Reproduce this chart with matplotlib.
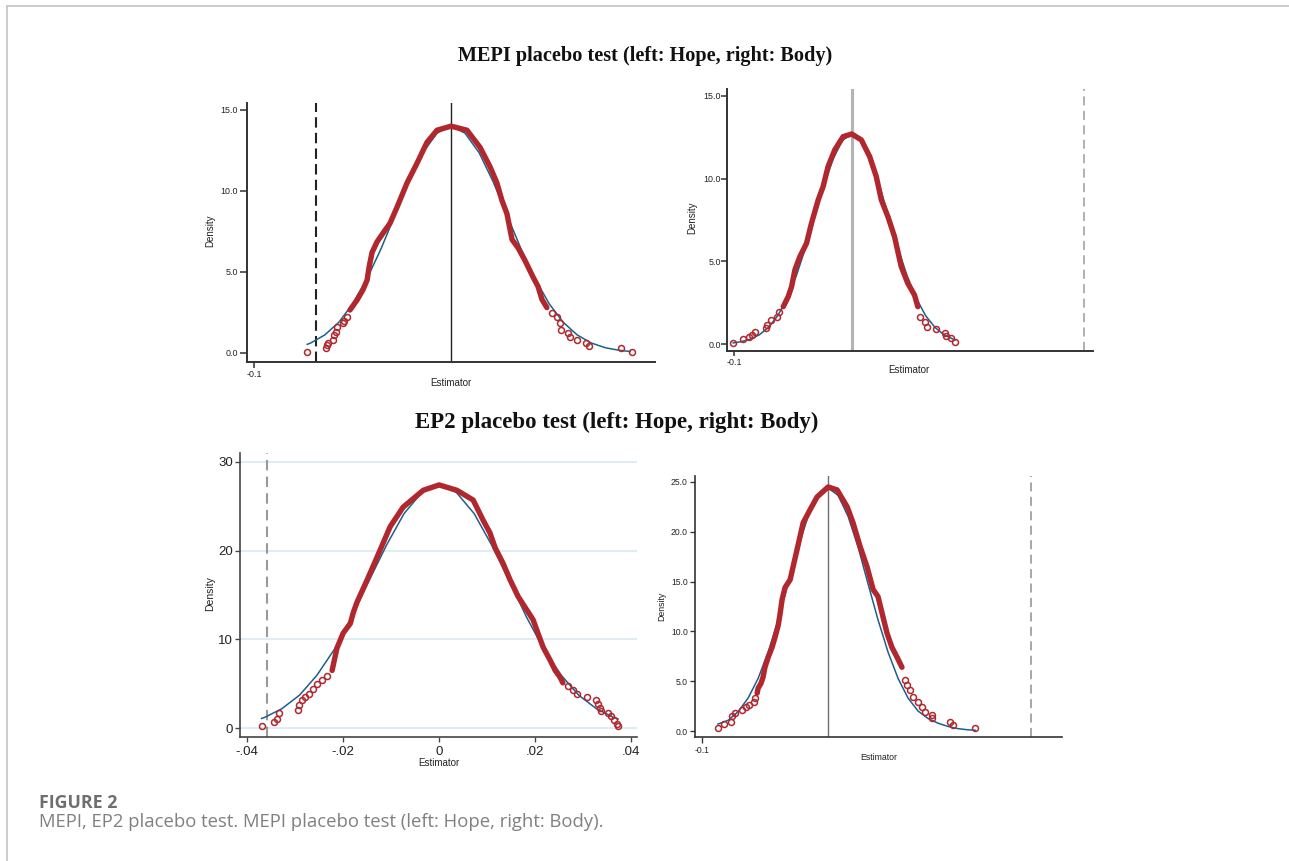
import matplotlib
matplotlib.use("Agg")
import matplotlib.pyplot as plt
from matplotlib.lines import Line2D

W, H = 1289, 861
RED = "#b0282e"
BLUE = "#1b5f8e"

# ---- MEPI, Hope (top left) ----
mepi_hope_kde_x = [-0.0513, -0.0477, -0.0447, -0.0426, -0.0416, -0.0401, -0.0376, -0.0345, -0.0310,
                   -0.0274, -0.0223, -0.0173, -0.0122, -0.0071, 0.0, 0.0081, 0.0147, 0.0198, 0.0233,
                   0.0259, 0.0284, 0.0310, 0.0340, 0.0376, 0.0416, 0.0442, 0.0462, 0.0487]
mepi_hope_kde_y = [2.65, 3.27, 3.9, 4.5, 5.3, 6.2, 6.85, 7.4, 8.0, 9.0, 10.5, 11.7, 13.0, 13.75, 14.0,
                   13.75, 12.7, 11.5, 10.5, 9.4, 8.6, 7.0, 6.5, 5.7, 4.7, 4.1, 3.3, 2.8]
mepi_hope_tail_x = [-0.0731, -0.0635, -0.0629, -0.0624, -0.0599, -0.0594, -0.0584, -0.0579, -0.0548,
                    -0.0543, -0.0528, 0.0513, 0.0538, 0.0553, 0.0558, 0.0594, 0.0604, 0.0640, 0.0685,
                    0.0700, 0.0863, 0.0919]
mepi_hope_tail_y = [0.06, 0.3, 0.5, 0.6, 0.8, 1.1, 1.3, 1.6, 1.85, 2.0, 2.2, 2.45, 2.2, 1.85, 1.4,
                    1.25, 1.0, 0.8, 0.6, 0.45, 0.3, 0.06]
mepi_hope_norm_x = [-0.0730, -0.0713, -0.0641, -0.0570, -0.0499, -0.0428, -0.0356, -0.0285, -0.0214,
                    -0.0143, -0.0071, 0.0, 0.0071, 0.0143, 0.0214, 0.0285, 0.0356, 0.0428, 0.0499,
                    0.0570, 0.0641, 0.0713, 0.0784, 0.0855, 0.0910]
mepi_hope_norm_y = [0.53, 0.61, 1.11, 1.89, 3.03, 4.55, 6.41, 8.49, 10.57, 12.36, 13.57, 14.0, 13.57,
                    12.36, 10.57, 8.49, 6.41, 4.55, 3.03, 1.89, 1.11, 0.61, 0.32, 0.16, 0.09]
mepi_hope_ref = 0.0
mepi_hope_actual = -0.0685

# ---- MEPI, Body (top right) ----
mepi_body_kde_x = [-0.0582, -0.0540, -0.0511, -0.0483, -0.0441, -0.0384, -0.0342, -0.0285, -0.0243,
                   -0.0201, -0.0144, -0.0073, 0.0, 0.0082, 0.0153, 0.0209, 0.0252, 0.0308, 0.0364,
                   0.0421, 0.0477, 0.0534, 0.0562]
mepi_body_kde_y = [2.26, 2.86, 3.47, 4.48, 5.28, 6.09, 7.30, 8.71, 9.52, 10.73, 11.74, 12.54, 12.70,
                   12.34, 11.33, 10.12, 8.71, 7.70, 6.49, 4.68, 3.67, 2.96, 2.26]
mepi_body_tail_x = [-0.1006, -0.0926, -0.0870, -0.0850, -0.0822, -0.0729, -0.0718, -0.0689, -0.0638,
                    -0.0619, 0.0582, 0.0619, 0.0641, 0.0718, 0.0797, 0.0802, 0.0845, 0.0881]
mepi_body_tail_y = [0.08, 0.28, 0.44, 0.54, 0.74, 0.95, 1.15, 1.45, 1.65, 1.95, 1.65, 1.35, 1.05,
                    0.89, 0.65, 0.48, 0.34, 0.10]
mepi_body_norm_x = [-0.1008, -0.0942, -0.0864, -0.0785, -0.0707, -0.0628, -0.0550, -0.0471, -0.0393,
                    -0.0314, -0.0236, -0.0157, -0.0079, 0.0, 0.0079, 0.0157, 0.0236, 0.0314, 0.0393,
                    0.0471, 0.0550, 0.0628, 0.0707, 0.0785, 0.0864, 0.0880]
mepi_body_norm_y = [0.07, 0.14, 0.29, 0.56, 1.01, 1.72, 2.75, 4.12, 5.81, 7.70, 9.59, 11.21, 12.31,
                    12.70, 12.31, 11.21, 9.59, 7.70, 5.81, 4.12, 2.75, 1.72, 1.01, 0.56, 0.29, 0.25]
mepi_body_ref = 0.0
mepi_body_actual = 0.1975

# ---- EP2, Hope (bottom left) ----
ep2_hope_kde_x = [-0.0223, -0.0213, -0.0200, -0.0185, -0.0179, -0.0171, -0.0150, -0.0129, -0.0102,
                  -0.0075, -0.0033, 0.0, 0.0037, 0.0071, 0.0092, 0.0106, 0.0117, 0.0133, 0.0148,
                  0.0165, 0.0183, 0.0196, 0.0206, 0.0217, 0.0231, 0.0242, 0.0252, 0.0258]
ep2_hope_kde_y = [6.5, 9.0, 10.7, 11.8, 13.0, 14.2, 16.7, 19.3, 22.7, 24.9, 26.8, 27.4, 26.8, 25.7,
                  23.4, 22.0, 20.3, 18.6, 16.7, 14.8, 13.3, 12.2, 10.7, 9.1, 7.7, 6.5, 5.75, 5.1]
ep2_hope_tail_x = [-0.0369, -0.0344, -0.0338, -0.0333, -0.0294, -0.0292, -0.0285, -0.0279, -0.0271,
                   -0.0263, -0.0254, -0.0244, -0.0233, 0.0269, 0.0279, 0.0288, 0.0308, 0.0327,
                   0.0331, 0.0335, 0.0338, 0.0352, 0.0358, 0.0365, 0.0371, 0.0373]
ep2_hope_tail_y = [0.23, 0.68, 1.01, 1.69, 2.03, 2.59, 3.16, 3.49, 3.83, 4.40, 4.96, 5.41, 5.86,
                   4.7, 4.3, 3.8, 3.5, 3.2, 2.7, 2.25, 1.9, 1.7, 1.35, 0.9, 0.45, 0.23]
ep2_hope_norm_x = [-0.0370, -0.0364, -0.0328, -0.0291, -0.0255, -0.0218, -0.0182, -0.0146, -0.0109,
                   -0.0073, -0.0036, 0.0, 0.0036, 0.0073, 0.0109, 0.0146, 0.0182, 0.0218, 0.0255,
                   0.0291, 0.0328, 0.0364, 0.0373]
ep2_hope_norm_y = [1.09, 1.20, 2.18, 3.71, 5.93, 8.90, 12.54, 16.62, 20.68, 24.18, 26.56, 27.40,
                   26.56, 24.18, 20.68, 16.62, 12.54, 8.90, 5.93, 3.71, 2.18, 1.20, 1.03]
ep2_hope_actual = -0.0358

# ---- EP2, Body (bottom right) ----
ep2_body_kde_x = [-0.0775, -0.0771, -0.0759, -0.0751, -0.0743, -0.0730, -0.0714, -0.0702, -0.0689,
                  -0.0681, -0.0673, -0.0661, -0.0640, -0.0628, -0.0612, -0.0587, -0.0559, -0.0530,
                  -0.0485, -0.0448, -0.0407, -0.0383, -0.0354, -0.0326, -0.0301, -0.0281, -0.0264,
                  -0.0244, -0.0224, -0.0203, -0.0183]
ep2_body_kde_y = [3.8, 4.3, 4.8, 5.4, 6.4, 7.4, 8.4, 9.4, 10.6, 11.8, 13.2, 14.4, 15.2, 16.5, 18.2,
                  20.9, 22.2, 23.5, 24.5, 24.2, 22.5, 20.9, 18.5, 16.5, 14.2, 13.5, 11.8, 9.8, 8.4,
                  7.4, 6.4]
ep2_body_tail_x = [-0.0935, -0.0910, -0.0881, -0.0877, -0.0865, -0.0837, -0.0820, -0.0808, -0.0787,
                   -0.0783, -0.0170, -0.0162, -0.0150, -0.0138, -0.0117, -0.0101, -0.0089, -0.0060,
                   -0.0060, 0.0013, 0.0026, 0.0116]
ep2_body_tail_y = [0.3, 0.7, 0.9, 1.5, 1.8, 2.1, 2.4, 2.6, 2.9, 3.3, 5.1, 4.6, 4.1, 3.4, 2.9, 2.4,
                   1.9, 1.6, 1.3, 0.9, 0.6, 0.3]
ep2_body_norm_x = [-0.0935, -0.0894, -0.0853, -0.0812, -0.0771, -0.0730, -0.0689, -0.0649, -0.0608,
                   -0.0567, -0.0526, -0.0485, -0.0444, -0.0403, -0.0362, -0.0322, -0.0281, -0.0240,
                   -0.0199, -0.0158, -0.0117, -0.0076, -0.0035, 0.0006, 0.0046, 0.0087, 0.0116]
ep2_body_norm_y = [0.70, 1.07, 1.94, 3.30, 5.28, 7.92, 11.17, 14.80, 18.42, 21.53, 23.65, 24.40,
                   23.65, 21.53, 18.42, 14.80, 11.17, 7.92, 5.28, 3.30, 2.00, 1.25, 0.78, 0.45, 0.24,
                   0.12, 0.08]
ep2_body_ref = -0.0485
ep2_body_actual = 0.0345

plt.rcParams["font.family"] = ["Liberation Sans", "DejaVu Sans"]
fig = plt.figure(figsize=(W / 100, H / 100), dpi=100)


def fx(px):
    return px / W


def fy(py):
    return 1 - py / H


def add_panel(left, right, top, bottom):
    return fig.add_axes([fx(left), fy(bottom), (right - left) / W, (bottom - top) / H])


def style(ax, spine_color, spine_lw, fontsize, xlen, xpad, ylen, ypad):
    for s in ("top", "right"):
        ax.spines[s].set_visible(False)
    for s in ("left", "bottom"):
        ax.spines[s].set_color(spine_color)
        ax.spines[s].set_linewidth(spine_lw)
    ax.tick_params(axis="x", length=xlen, pad=xpad, width=spine_lw * 0.8, color=spine_color,
                   labelsize=fontsize, labelcolor="#222222")
    ax.tick_params(axis="y", length=ylen, pad=ypad, width=spine_lw * 0.8, color=spine_color,
                   labelsize=fontsize, labelcolor="#222222")
    ax.set_facecolor("none")


def draw_density(ax, kx, ky, tx, ty, nx, ny):
    ax.plot(nx, ny, color=BLUE, lw=1.1, zorder=2)
    # dense part of the kernel density: overlapping circles read as a thick band
    ax.plot(kx, ky, color=RED, lw=3.9, solid_capstyle="round", solid_joinstyle="round",
            zorder=3)
    ax.plot(tx, ty, ls="none", marker="o", ms=4.3, mfc="none", mec=RED, mew=1.1, zorder=3)


def label(x, y, s, size, rot=0):
    fig.text(fx(x), fy(y), s, ha="center", va="center", fontsize=size, rotation=rot,
             color="#222222")


# frame around the figure (top and left edges visible)
fig.add_artist(Line2D([fx(6.5), fx(6.5)], [fy(5.5), 0], transform=fig.transFigure,
                      color="#c8c8c8", lw=1.3))
fig.add_artist(Line2D([fx(6.5), 1], [fy(5.5), fy(5.5)], transform=fig.transFigure,
                      color="#c8c8c8", lw=1.3))

title_font = ["Liberation Serif", "DejaVu Serif"]
fig.text(fx(645), fy(56), "MEPI placebo test (left: Hope, right: Body)", ha="center",
         va="center", fontsize=14.6, fontweight="bold", family=title_font, color="#111111")
fig.text(fx(617), fy(422), "EP2 placebo test (left: Hope, right: Body)", ha="center",
         va="center", fontsize=16.5, fontweight="bold", family=title_font, color="#111111")

# top left
ax1 = add_panel(247, 655, 103, 362)
draw_density(ax1, mepi_hope_kde_x, mepi_hope_kde_y, mepi_hope_tail_x, mepi_hope_tail_y,
             mepi_hope_norm_x, mepi_hope_norm_y)
ax1.axvline(mepi_hope_ref, color="#222222", lw=1.0, zorder=1)
ax1.axvline(mepi_hope_actual, color="#222222", lw=1.5, ls=(0, (5, 2.5)), zorder=1)
ax1.set_xlim(-0.1036, 0.1036)
ax1.set_ylim(-0.56, 15.43)
ax1.set_yticks([0, 5, 10, 15], ["0.0", "5.0", "10.0", "15.0"])
ax1.set_xticks([-0.1], ["-0.1"])
style(ax1, "#333333", 1.4, 6.4, 4, 2, 5, 1.5)
label(210, 231, "Density", 7, rot=90)
label(451, 383, "Estimator", 7)

# top right
ax2 = add_panel(727, 1093, 89, 351)
draw_density(ax2, mepi_body_kde_x, mepi_body_kde_y, mepi_body_tail_x, mepi_body_tail_y,
             mepi_body_norm_x, mepi_body_norm_y)
ax2.axvline(mepi_body_ref, color="#b4b4b4", lw=2.2, zorder=1)
ax2.axvline(mepi_body_actual, color="#aaaaaa", lw=1.3, ls=(0, (5, 3)), zorder=1)
ax2.set_xlim(-0.106, 0.2051)
ax2.set_ylim(-0.42, 15.42)
ax2.set_yticks([0, 5, 10, 15], ["0.0", "5.0", "10.0", "15.0"])
ax2.set_xticks([-0.1], ["-0.1"])
style(ax2, "#333333", 1.4, 6.4, 3.5, 1.5, 4, 0.5)
label(692, 218, "Density", 7, rot=90)
label(909, 370, "Estimator", 7)

# bottom left
ax3 = add_panel(240, 637, 453, 737)
for g in [0, 10, 20, 30]:
    ax3.axhline(g, color="#dcecf2", lw=1.3, zorder=0)
draw_density(ax3, ep2_hope_kde_x, ep2_hope_kde_y, ep2_hope_tail_x, ep2_hope_tail_y,
             ep2_hope_norm_x, ep2_hope_norm_y)
ax3.axvline(ep2_hope_actual, color="#999999", lw=1.5, ls=(0, (5, 3)), zorder=1)
ax3.set_xlim(-0.0415, 0.04125)
ax3.set_ylim(-1.0, 31.0)
ax3.set_yticks([0, 10, 20, 30], ["0", "10", "20", "30"])
ax3.set_xticks([-0.04, -0.02, 0, 0.02, 0.04], ["-.04", "-.02", "0", ".02", ".04"])
style(ax3, "#444444", 1.2, 9.5, 3.6, 3, 3.6, 1.5)
label(210, 594, "Density", 7.5, rot=90)
label(439, 763, "Estimator", 7)

# bottom right
ax4 = add_panel(695, 1062, 476, 737)
draw_density(ax4, ep2_body_kde_x, ep2_body_kde_y, ep2_body_tail_x, ep2_body_tail_y,
             ep2_body_norm_x, ep2_body_norm_y)
ax4.axvline(ep2_body_ref, color="#6e6e6e", lw=1.0, zorder=1)
ax4.axvline(ep2_body_actual, color="#a0a0a0", lw=1.3, ls=(0, (5, 3)), zorder=1)
ax4.set_xlim(-0.1029, 0.0471)
ax4.set_ylim(-0.6, 25.6)
ax4.set_yticks([0, 5, 10, 15, 20, 25], ["0.0", "5.0", "10.0", "15.0", "20.0", "25.0"])
ax4.set_xticks([-0.1], ["-0.1"])
style(ax4, "#333333", 1.2, 6.2, 4.3, 2, 3.6, 1.5)
label(662, 606, "Density", 6.3, rot=90)
label(879, 757, "Estimator", 6.3)

# caption
cap_font = ["Open Sans", "DejaVu Sans"]
fig.text(fx(39), fy(803), "FIGURE 2", ha="left", va="center", fontsize=12.8, fontweight="bold",
         family=cap_font, color="#6e6e6e")
fig.text(fx(39), fy(822), "MEPI, EP2 placebo test. MEPI placebo test (left: Hope, right: Body).",
         ha="left", va="center", fontsize=13.3, family=cap_font, color="#808080")

fig.savefig("out.png", dpi=100, facecolor="white")
